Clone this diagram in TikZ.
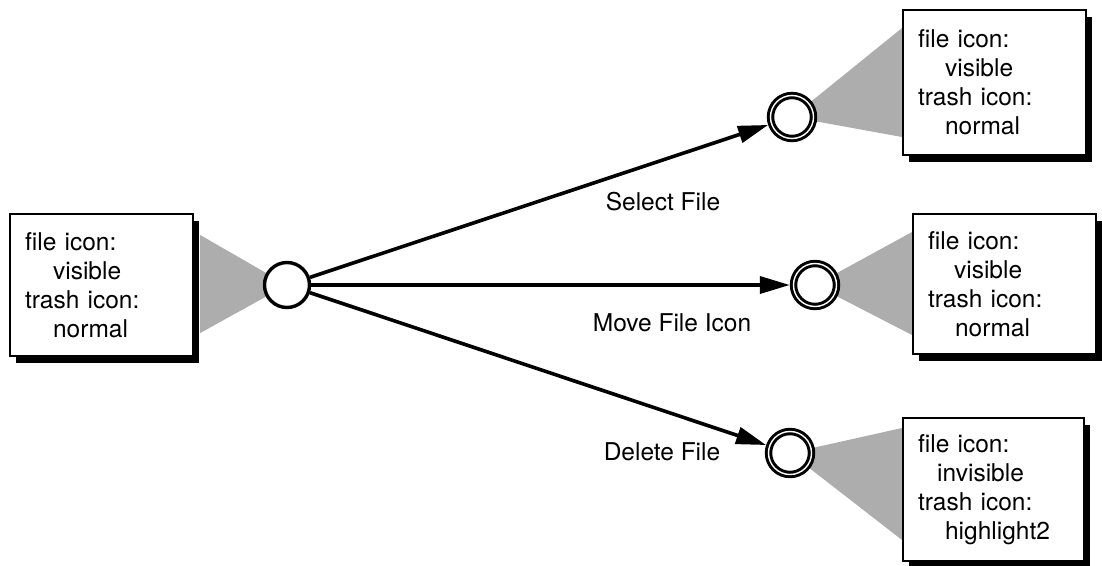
\documentclass[tikz,border=0pt]{standalone}
\usepackage{fontspec}
\setmainfont{TeX Gyre Heros}
\usetikzlibrary{arrows.meta,shadows,calc}
\pgfdeclarelayer{background}
\pgfsetlayers{background,main}
\begin{document}
\begin{tikzpicture}[x=1pt,y=-1pt,
  every node/.style={font=\fontsize{24.5pt}{29pt}\selectfont},
  statebox/.style={draw=black, line width=2.2pt, fill=white, anchor=north west,
    rectangle, align=left, text width=153pt, inner xsep=15pt, inner ysep=0pt,
    minimum height=142pt,
    drop shadow={shadow xshift=6pt, shadow yshift=-7pt, fill=black, opacity=1}},
  startstate/.style={draw=black, line width=3.4pt, fill=white, circle,
    minimum size=45pt, inner sep=0pt},
  endstate/.style={draw=black, line width=3pt, double=white,
    double distance=1.4pt, fill=white, circle, minimum size=43pt,
    inner sep=0pt, outer sep=3.7pt},
  transition/.style={line width=3.6pt,
    -{Triangle[length=30pt,width=17pt]}},
  cone/.style={fill=black!32, draw=none},
  label/.style={inner sep=0pt}]

\useasboundingbox (0,0) rectangle (1102,565);

% state boxes
\node[statebox] (L) at (9,213) {file icon:\\\hspace*{28pt}visible\\trash icon:\\\hspace*{28pt}normal};
\node[statebox, minimum height=145pt] (T) at (902,9) {file icon:\\\hspace*{27pt}visible\\trash icon:\\\hspace*{27pt}normal};
\node[statebox, minimum height=140pt] (M) at (912,213) {file icon:\\\hspace*{26pt}visible\\trash icon:\\\hspace*{27pt}normal};
\node[statebox, text width=151pt, minimum height=143pt] (B) at (902,417) {file icon:\\\hspace*{19pt}invisible\\trash icon:\\\hspace*{27pt}highlight2};

% states
\node[startstate] (S) at (287,285) {};
\node[endstate] (S1) at (792,117) {};
\node[endstate] (S2) at (815,285) {};
\node[endstate] (S3) at (790,453) {};

% shaded cones linking each state to its box
\begin{pgfonlayer}{background}
  \fill[cone] ($(L.north east)+(6,22)$) -- (S.center) -- ($(L.north east)+(6,120)$) -- cycle;
  \fill[cone] ($(T.north west)+(0,19)$) -- (S1.center) -- ($(T.north west)+(0,128)$) -- cycle;
  \fill[cone] ($(M.north west)+(0,19)$) -- (S2.center) -- ($(M.north west)+(0,122)$) -- cycle;
  \fill[cone] ($(B.north west)+(0,11)$) -- (S3.center) -- ($(B.north west)+(0,123)$) -- cycle;
\end{pgfonlayer}

% transitions
\draw[transition] (S) -- (S1);
\draw[transition] (S) -- (S2);
\draw[transition] (S) -- (S3);

% transition labels
\node[label] (l1) at (663,202) {Select File};
\node[label] (l2) at (672,323) {Move File Icon};
\node[label] (l3) at (662,452) {Delete File};
\end{tikzpicture}
\end{document}
